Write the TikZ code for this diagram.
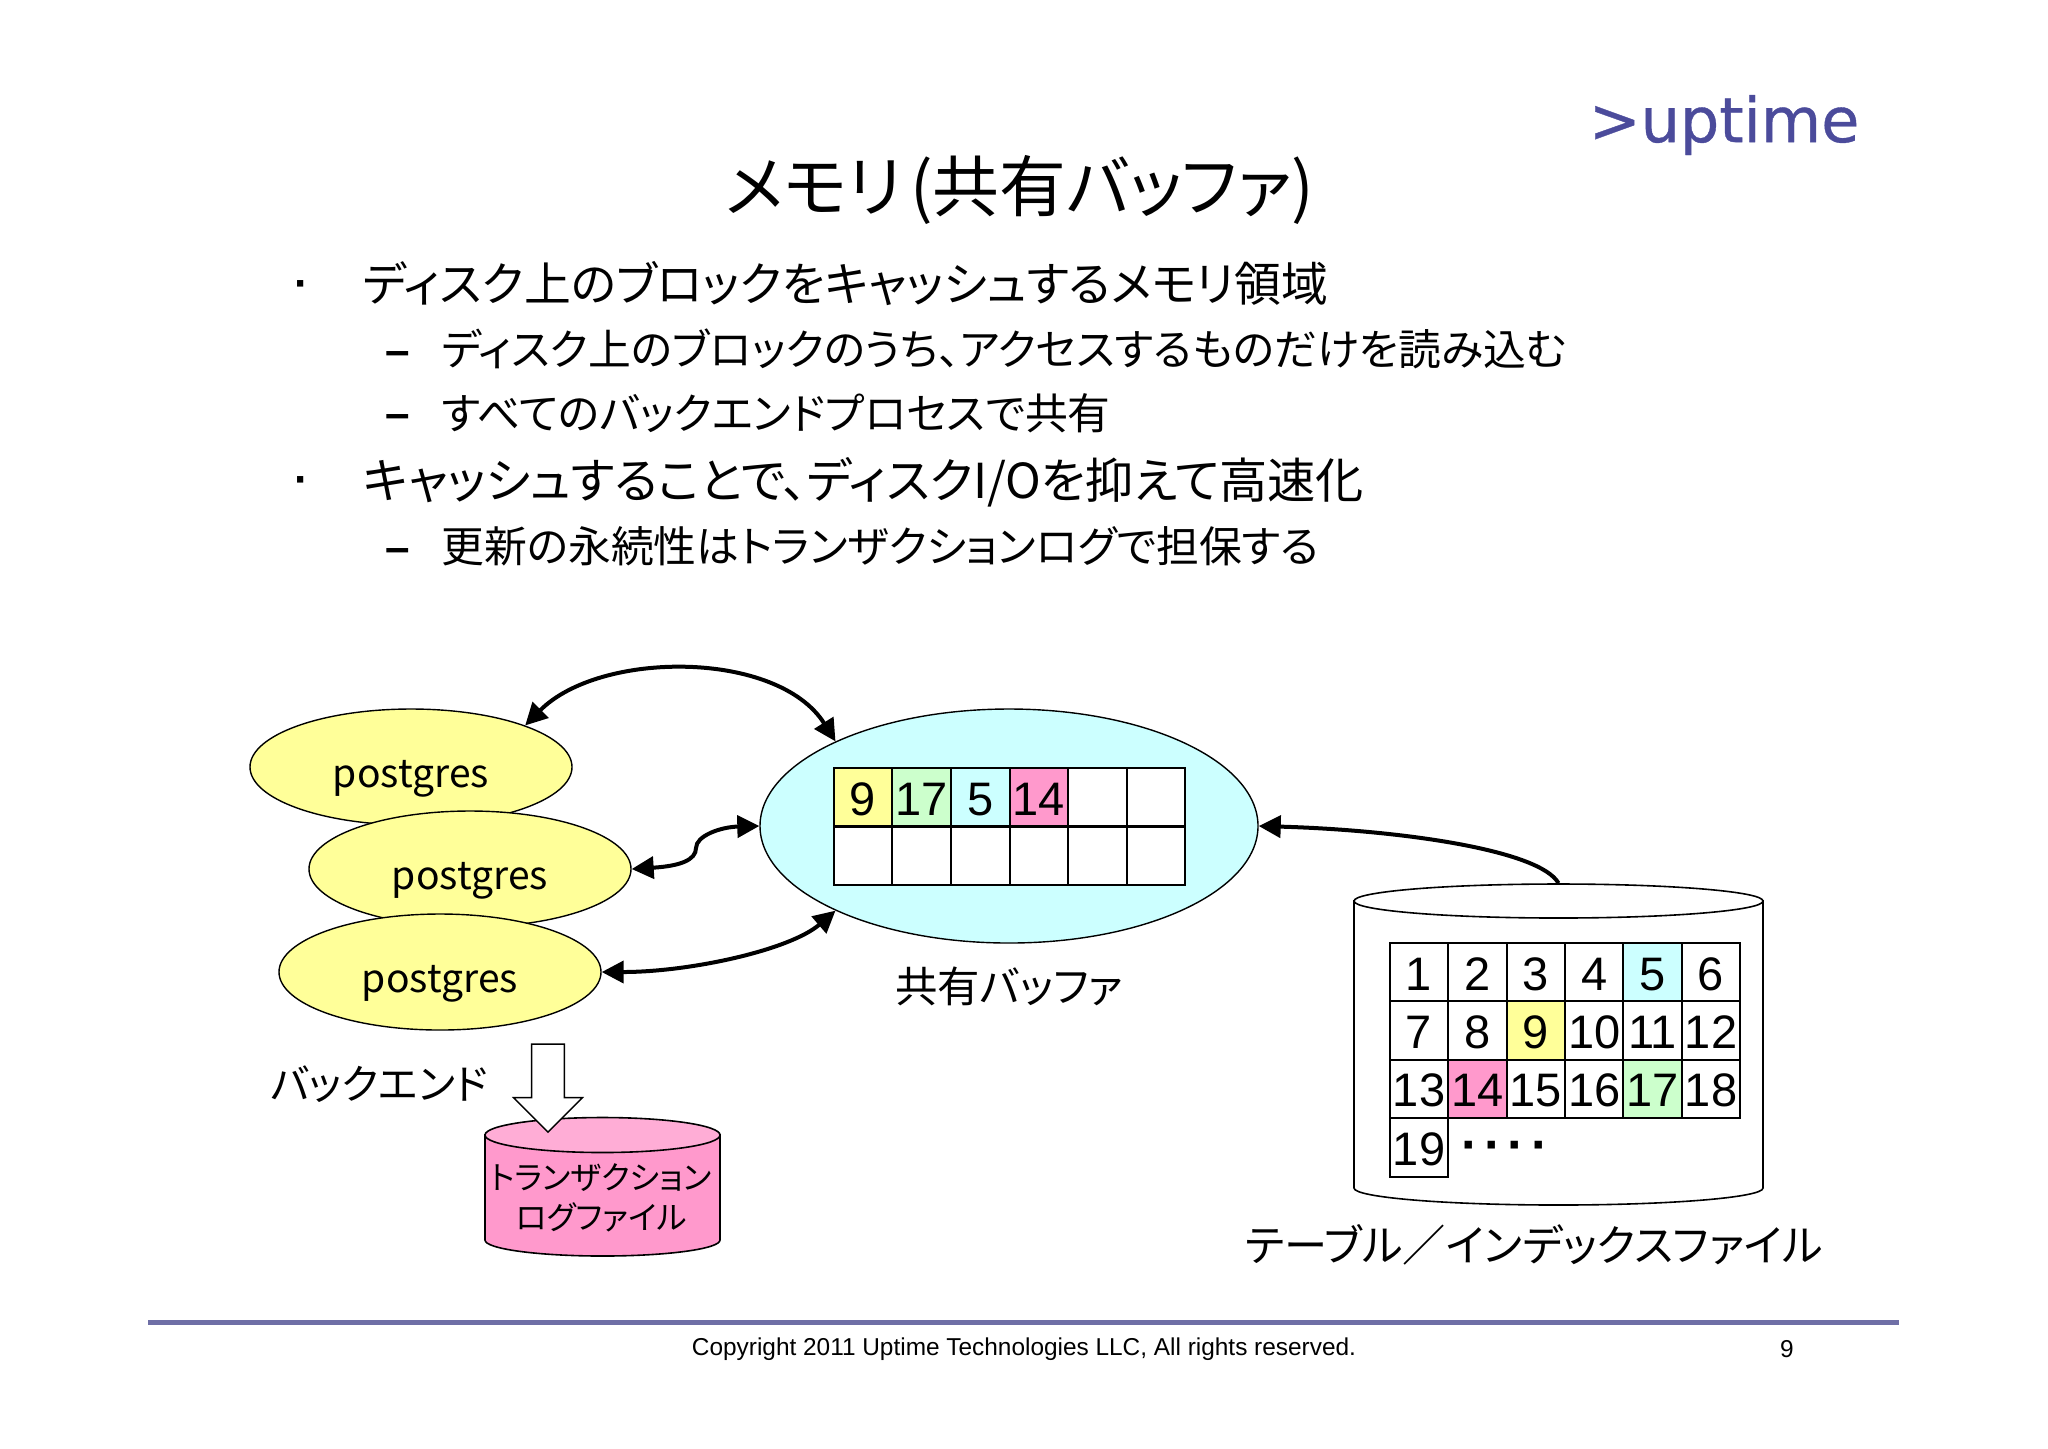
\documentclass[tikz,border=0pt]{standalone}
\usepackage{fontspec}
\setmainfont{Liberation Sans}
\newfontfamily\jp[RawFeature=+palt]{Noto Sans CJK JP}
\newfontfamily\logofont[FakeBold=0.6]{DejaVu Sans}
\usetikzlibrary{arrows.meta,shapes.geometric,shapes.arrows}
\definecolor{cyel}{HTML}{FFFF99}
\definecolor{ccya}{HTML}{CCFFFF}
\definecolor{cpnk}{HTML}{FF99CC}
\definecolor{cgrn}{HTML}{CCFFCC}
\definecolor{cnav}{HTML}{4B4B9B}
\definecolor{crul}{HTML}{6F6FA6}
\newcommand{\fs}[1]{\fontsize{#1}{#1}\selectfont}
\tikzstyle{proc} = [ellipse, draw, fill=cyel, line width=.7pt, minimum width=161pt, minimum height=58pt, inner sep=0pt, text height=20pt, text depth=0pt, font=\jp\fs{19.5}]
\tikzstyle{cell} = [rectangle, draw, line width=1pt, minimum size=29.3pt, inner sep=0pt, text height=18pt, text depth=0pt, font=\fs{23.5}]
\tikzstyle{lbl} = [inner sep=0pt, font=\jp\fs{21.2}]
\tikzstyle{item} = [anchor=west, inner sep=0pt, font=\jp\fs{23.4}]
\tikzstyle{sub} = [anchor=west, inner sep=0pt, font=\jp\fs{21.4}]
\tikzstyle{bul} = [inner sep=0pt, font=\bfseries\fs{22}]
\tikzstyle{link} = [{Triangle[length=11pt,width=11pt]}-{Triangle[length=11pt,width=11pt]}, line width=2pt]
\tikzstyle{drum} = [draw, line width=.8pt]

\begin{document}
\begin{tikzpicture}[x=.5pt, y=-.5pt]
  \useasboundingbox (0,0) rectangle (2048,1448);

  % header and text
  \node (logo) [inner sep=0pt, text=cnav, font=\logofont\fs{31}] at (1724,125) {>uptime};
  \node (title) [inner sep=0pt, font=\jp\fs{33.4}] at (1020,190) {メモリ\hspace{4pt}(共有バッファ)\hspace{4pt}};
  \node (ma) [bul] at (302,290) {·};
  \node (ta) [item] at (363,284) {ディスク上のブロックをキャッシュするメモリ領域};
  \node (da) [bul] at (398,358) {–};
  \node (tb) [sub] at (441,349) {ディスク上のブロックのうち、アクセスするものだけを読み込む};
  \node (db) [bul] at (398,421) {–};
  \node (tc) [sub] at (441,413) {すべてのバックエンドプロセスで共有};
  \node (mb) [bul] at (302,486) {·};
  \node (td) [item, font=\jp\fs{24.1}] at (363,482) {キャッシュすることで、ディスクI/Oを抑えて高速化};
  \node (dc) [bul] at (398,555) {–};
  \node (te) [sub] at (441,546) {更新の永続性はトランザクションログで担保する};

  % backends
  \node (pA) [proc] at (411,767) {postgres};
  \node (pB) [proc] at (470,869) {postgres};
  \node (pC) [proc] at (440,972) {postgres};
  \node (back) [lbl, font=\jp\fs{20.6}] at (379,1084) {バックエンド};

  % shared buffer
  \node (buf) [ellipse, draw, fill=ccya, line width=.7pt, minimum width=249pt, minimum height=117pt, inner sep=0pt] at (1009,826) {};
  \foreach \n/\c/\i in {9/cyel/0, 17/cgrn/1, 5/ccya/2, 14/cpnk/3, /white/4, /white/5}
    \node (b\i) [cell, fill=\c] at (863+58.6*\i,797) {\n};
  \foreach \i in {0,...,5}
    \node (c\i) [cell, fill=white] at (863+58.6*\i,856) {};
  \node (bufl) [lbl] at (1009,986) {共有バッファ};

  % table file
  \path[drum, fill=white] (1354,901) -- (1354,1188) arc[start angle=180, end angle=0, x radius=204.5, y radius=17] -- (1763,901) -- cycle;
  \node (tbl) [ellipse, drum, fill=white, minimum width=204.5pt, minimum height=17pt, inner sep=0pt] at (1558.5,901) {};
  \foreach \n/\c in {1/white,2/white,3/white,4/white,5/ccya,6/white,
                     7/white,8/white,9/cyel,10/white,11/white,12/white,
                     13/white,14/cpnk,15/white,16/white,17/cgrn,18/white,19/white} {
    \pgfmathtruncatemacro{\col}{mod(\n-1,6)}
    \pgfmathtruncatemacro{\row}{int((\n-1)/6)}
    \node (t\n) [cell, fill=\c] at (1419+58.4*\col,972+58.4*\row) {\n};
  }
  \node (more) [inner sep=0pt, font=\bfseries\fs{26}] at (1505,1152) {·\hspace{3pt}·\hspace{3pt}·\hspace{3pt}·};
  \node (tbll) [lbl, font=\jp\fs{21.6}] at (1534,1245) {テーブル／インデックスファイル};

  % log file
  \path[drum, fill=cpnk] (485,1135) -- (485,1240) arc[start angle=180, end angle=0, x radius=117.5, y radius=16] -- (720,1135) -- cycle;
  \node (log) [ellipse, drum, fill=cpnk!80!white, minimum width=117.5pt, minimum height=17.5pt, inner sep=0pt] at (602.5,1135) {};
  \node (logl) [align=center, inner sep=0pt, font=\jp\fs{16}] at (601,1198) {トランザクション\\[4pt]ログファイル};
  \node (wal) [single arrow, shape border rotate=270, draw, fill=white, line width=.7pt, minimum width=34.5pt, minimum height=44pt, single arrow head extend=8.75pt, single arrow head indent=0pt, inner xsep=7.5pt, inner ysep=0pt] at (548,1080) {};

  % connectors
  \draw[link] (pA.20) .. controls (600,650) and (778,650) .. (buf.154);
  \draw[link] (pB.east) .. controls (680,866) and (696,860) .. (696,848) .. controls (696,836) and (720,827) .. (buf.west);
  \draw[link] (pC.east) .. controls (690,972) and (790,950) .. (buf.206);
  \draw[line width=2pt, -{Triangle[length=11pt,width=11pt]}] (tbl.north) .. controls (1540,850) and (1400,830) .. (buf.east);

  % footer
  \coordinate (rl) at (148,1322);
  \coordinate (rr) at (1899,1322);
  \draw[crul, line width=2.5pt] (rl) -- (rr);
  \node (copy) [inner sep=0pt, font=\fs{12.2}] at (1024,1349) {Copyright 2011 Uptime Technologies LLC, All rights reserved.};
  \node (page) [inner sep=0pt, font=\fs{12.2}] at (1787,1349) {9};
\end{tikzpicture}
\end{document}
